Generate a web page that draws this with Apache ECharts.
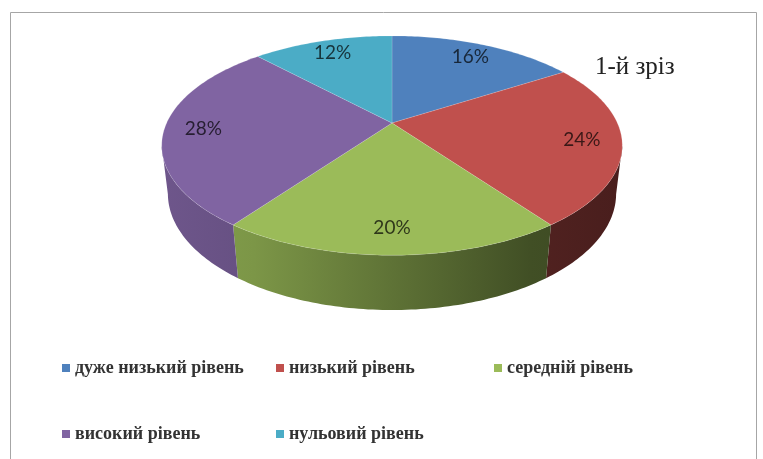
<!DOCTYPE html>
<html>
<head>
<meta charset="utf-8">
<script src="https://cdn.jsdelivr.net/npm/echarts@6/dist/echarts.min.js"></script>
<style>
  html, body { margin: 0; padding: 0; background: #fff; }
  #chart { width: 763px; height: 459px; }
</style>
</head>
<body>
<div id="chart"></div>
<script>
const categories = ['дуже низький рівень', 'низький рівень', 'середній рівень', 'високий рівень', 'нульовий рівень']
const shares = [16, 24, 20, 28, 12]
const sliceColors = ['#4F81BD', '#C0504D', '#9BBB59', '#8064A2', '#4BACC6']

// perspective of the tilted disc
const CX = 392
const CY = 123
const FOCAL = 969
const DIST = 4.3
const SIN_T = 0.466
const COS_T = 0.885
const DEPTH = 0.243
const LABEL_R = 0.83

const total = shares.reduce((a, b) => a + b, 0)
const starts = []
shares.reduce((acc, v) => { starts.push(acc); return acc + v }, 0)

function project(theta, r, drop) {
  const x = r * Math.sin(theta)
  const z = -r * Math.cos(theta)
  const d = DIST - z * COS_T + drop * SIN_T
  return [CX + FOCAL * x / d, CY + FOCAL * (z * SIN_T + drop * COS_T) / d]
}

function shade(hex, k) {
  const n = parseInt(hex.slice(1), 16)
  const ch = [(n >> 16) & 255, (n >> 8) & 255, n & 255].map((c) => Math.round(c * k))
  return `rgb(${ch[0]},${ch[1]},${ch[2]})`
}

const silhouette = Math.acos(-COS_T / DIST)
const leftX = project(2 * Math.PI - silhouette, 1, 0)[0]
const rightX = project(silhouette, 1, 0)[0]

function arcPoints(a, b, r, drop) {
  const pts = []
  const steps = Math.max(2, Math.ceil((b - a) / (Math.PI / 180)))
  for (let i = 0; i <= steps; i++) {
    pts.push(project(a + (b - a) * i / steps, r, drop))
  }
  return pts
}

function renderSlice(params, api) {
  const i = params.dataIndex
  const color = sliceColors[i]
  const a = starts[i] / total * 2 * Math.PI
  const b = a + api.value(0) / total * 2 * Math.PI
  const children = []

  const wa = Math.max(a, silhouette)
  const wb = Math.min(b, 2 * Math.PI - silhouette)
  if (wb > wa) {
    const top = arcPoints(wa, wb, 1, 0)
    const bottom = arcPoints(wa, wb, 1, DEPTH).reverse()
    children.push({
      type: 'polygon',
      z2: 1,
      shape: { points: top.concat(bottom) },
      style: {
        fill: new echarts.graphic.LinearGradient(leftX, 0, rightX, 0, [
          { offset: 0, color: shade(color, 0.86) },
          { offset: 0.2, color: shade(color, 0.8) },
          { offset: 0.8, color: shade(color, 0.42) },
          { offset: 1, color: shade(color, 0.38) },
        ], true),
      },
    })
  }

  children.push({
    type: 'polygon',
    z2: 10,
    shape: { points: [project(0, 0, 0)].concat(arcPoints(a, b, 1, 0)) },
    style: { fill: color, stroke: 'rgba(255,255,255,0.25)', lineWidth: 0.6 },
  })

  const mid = (a + b) / 2
  const pos = project(mid, LABEL_R, 0)
  children.push({
    type: 'text',
    z2: 20,
    x: pos[0],
    y: pos[1],
    style: {
      text: Math.round(api.value(0) / total * 100) + '%',
      align: 'center',
      verticalAlign: 'middle',
      font: '19px Lato',
      fill: shade(color, 0.3),
    },
  })

  return { type: 'group', children }
}

const legendText = {
  fontFamily: 'Liberation Serif',
  fontWeight: 'bold',
  fontSize: 18,
  lineHeight: 18,
  color: '#333333',
}

function legendColumn(names, left) {
  return {
    data: names,
    orient: 'vertical',
    left,
    top: 354,
    icon: 'rect',
    itemWidth: 8,
    itemHeight: 8,
    itemGap: 48,
    selectedMode: false,
    textStyle: legendText,
  }
}

const chart = echarts.init(document.getElementById('chart'))
chart.setOption({
  animation: false,
  backgroundColor: '#fff',
  title: {
    text: '1-й зріз',
    left: 590,
    top: 50,
    textStyle: { fontFamily: 'Liberation Serif', fontWeight: 'normal', fontSize: 25, color: '#222' },
  },
  legend: [
    legendColumn([categories[0], categories[3]], 57),
    legendColumn([categories[1], categories[4]], 271),
    legendColumn([categories[2]], 489),
  ],
  graphic: [
    {
      type: 'rect',
      shape: { x: 10.5, y: 12.5, width: 746, height: 470 },
      style: { fill: 'none', stroke: '#a6a6a6', lineWidth: 1 },
      silent: true,
    },
  ],
  series: [
    {
      type: 'custom',
      coordinateSystem: 'none',
      data: shares.map((v) => [v]),
      renderItem: renderSlice,
      silent: true,
    },
    {
      type: 'pie',
      radius: 0,
      silent: true,
      label: { show: false },
      labelLine: { show: false },
      data: categories.map((name, i) => ({ name, value: shares[i], itemStyle: { color: sliceColors[i] } })),
    },
  ],
})
</script>
</body>
</html>
